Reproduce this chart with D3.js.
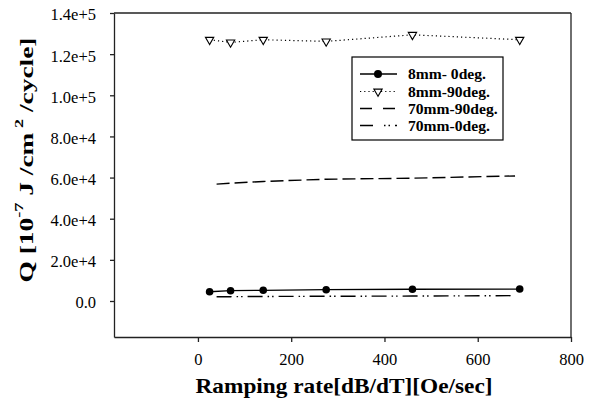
<!DOCTYPE html>
<html><head><meta charset="utf-8">
<script src="https://cdn.jsdelivr.net/npm/d3@7"></script>
<style>body{margin:0;background:#fff;}svg{display:block;}</style>
</head><body>
<svg id="c" width="596" height="407"></svg>
<script>
// ---- data ----
const rate8 = [25, 70, 140, 275, 460, 690];
const q8mm0deg = [4500, 5000, 5200, 5500, 5700, 5800];
const q8mm90deg = [127000, 125700, 127000, 126200, 129400, 127000];
const rate70 = [40, 70, 140, 275, 460, 680];
const q70mm90deg = [56800, 57300, 58100, 59200, 59700, 60800];
const q70mm0deg = [2100, 2100, 2200, 2300, 2400, 2600];
const xTicks = [0, 200, 400, 600, 800];
const yTicks = [0, 20000, 40000, 60000, 80000, 100000, 120000, 140000];
const yTickLabels = ["0.0", "2.0e+4", "4.0e+4", "6.0e+4", "8.0e+4", "1.0e+5", "1.2e+5", "1.4e+5"];
const seriesNames = ["8mm- 0deg.", "8mm-90deg.", "70mm-90deg.", "70mm-0deg."];

const svg = d3.select("#c");
const L = 114, R = 571, T = 13, B = 337;
const x = d3.scaleLinear().domain([-180, 800]).range([L, R]);
const y = d3.scaleLinear().domain([-17500, 140000]).range([B, T]);
const serif = "'Liberation Serif','Times New Roman',serif";

// axes
const xa = svg.append("g").attr("transform", `translate(0,${B})`)
  .call(d3.axisBottom(x).tickValues(xTicks).tickSize(5).tickSizeOuter(0).tickPadding(9).tickFormat(d3.format("d")));
const ya = svg.append("g").attr("transform", `translate(${L},0)`)
  .call(d3.axisLeft(y).tickValues(yTicks).tickSize(4).tickSizeOuter(0).tickPadding(14).tickFormat((d,i)=>yTickLabels[i]));
[xa, ya].forEach(g => {
  g.selectAll("path,line").attr("stroke", "#222").attr("stroke-width", 1.3);
  g.selectAll("text").attr("fill", "#000").attr("font-family", serif).attr("font-size", 16.5);
});
ya.selectAll("text").attr("dy", "0.42em");
xa.selectAll("text").attr("dy", "0.85em");
// frame top/right
svg.append("line").attr("x1", L).attr("x2", R).attr("y1", T).attr("y2", T).attr("stroke", "#222").attr("stroke-width", 1.3);
svg.append("line").attr("x1", R).attr("x2", R).attr("y1", T).attr("y2", B).attr("stroke", "#222").attr("stroke-width", 1.3);

// titles
svg.append("text").attr("x", 344).attr("y", 393).attr("text-anchor", "middle")
  .attr("font-family", serif).attr("font-weight", "bold").attr("font-size", 21)
  .attr("textLength", 297).attr("lengthAdjust", "spacingAndGlyphs")
  .text("Ramping  rate[dB/dT][Oe/sec]");
const yt = svg.append("text").attr("transform", "translate(33,160) rotate(-90)").attr("text-anchor", "middle")
  .attr("font-family", serif).attr("font-weight", "bold").attr("font-size", 18)
  .attr("textLength", 245).attr("lengthAdjust", "spacingAndGlyphs");
yt.append("tspan").text("Q [10");
yt.append("tspan").attr("font-size", 12).attr("dy", -10).text("-7");
yt.append("tspan").attr("dy", 10).text(" J /cm");
yt.append("tspan").attr("font-size", 12).attr("dy", -10).text(" 2");
yt.append("tspan").attr("dy", 10).text(" /cycle]");

// series
const line = d3.line().x(d => x(d[0])).y(d => y(d[1]));
const s1 = rate8.map((r,i)=>[r, q8mm0deg[i]]);
const s2 = rate8.map((r,i)=>[r, q8mm90deg[i]]);
const s3 = rate70.map((r,i)=>[r, q70mm90deg[i]]);
const s4 = rate70.map((r,i)=>[r, q70mm0deg[i]]);
const styles = [
  {dash: null, w: 1.3},
  {dash: "1.2,3", w: 1.2},
  {dash: "13,5", w: 1.4},
  {dash: "15,5,1.5,3,1.5,5", w: 1.4}
];
[s1, s2, s3, s4].forEach((s, i) => {
  svg.append("path").datum(s).attr("d", line).attr("fill", "none")
    .attr("stroke", "#000").attr("stroke-width", styles[i].w)
    .attr("stroke-dasharray", styles[i].dash);
});
const tri = d3.symbol().type(d3.symbolTriangle).size(30);
svg.append("g").selectAll("circle").data(s1).join("circle")
  .attr("cx", d => x(d[0])).attr("cy", d => y(d[1])).attr("r", 3.8).attr("fill", "#000");
svg.append("g").selectAll("path").data(s2).join("path")
  .attr("d", tri).attr("transform", d => `translate(${x(d[0])},${y(d[1])}) rotate(180)`)
  .attr("fill", "#fff").attr("stroke", "#000").attr("stroke-width", 1.1);

// legend
const lg = svg.append("g");
lg.append("rect").attr("x", 352).attr("y", 57).attr("width", 151).attr("height", 83)
  .attr("fill", "#fff").attr("stroke", "#000").attr("stroke-width", 1.2);
const rowsY = [74, 91.5, 108.5, 125.5];
seriesNames.forEach((n, i) => {
  lg.append("line").attr("x1", 360).attr("x2", 397).attr("y1", rowsY[i]).attr("y2", rowsY[i])
    .attr("stroke", "#000").attr("stroke-width", styles[i].w)
    .attr("stroke-dasharray", i === 2 ? "12,11" : i === 3 ? "13,11,1.5,3,1.5,5" : styles[i].dash);
  if (i === 0) lg.append("circle").attr("cx", 378).attr("cy", rowsY[i]).attr("r", 4).attr("fill", "#000");
  if (i === 1) lg.append("path").attr("d", tri).attr("transform", `translate(378,${rowsY[i]}) rotate(180)`)
    .attr("fill", "#fff").attr("stroke", "#000").attr("stroke-width", 1.1);
  lg.append("text").attr("x", 408).attr("y", rowsY[i] + 5).attr("font-family", serif)
    .attr("font-weight", "bold").attr("font-size", 15.6).text(n);
});
</script>
</body></html>
